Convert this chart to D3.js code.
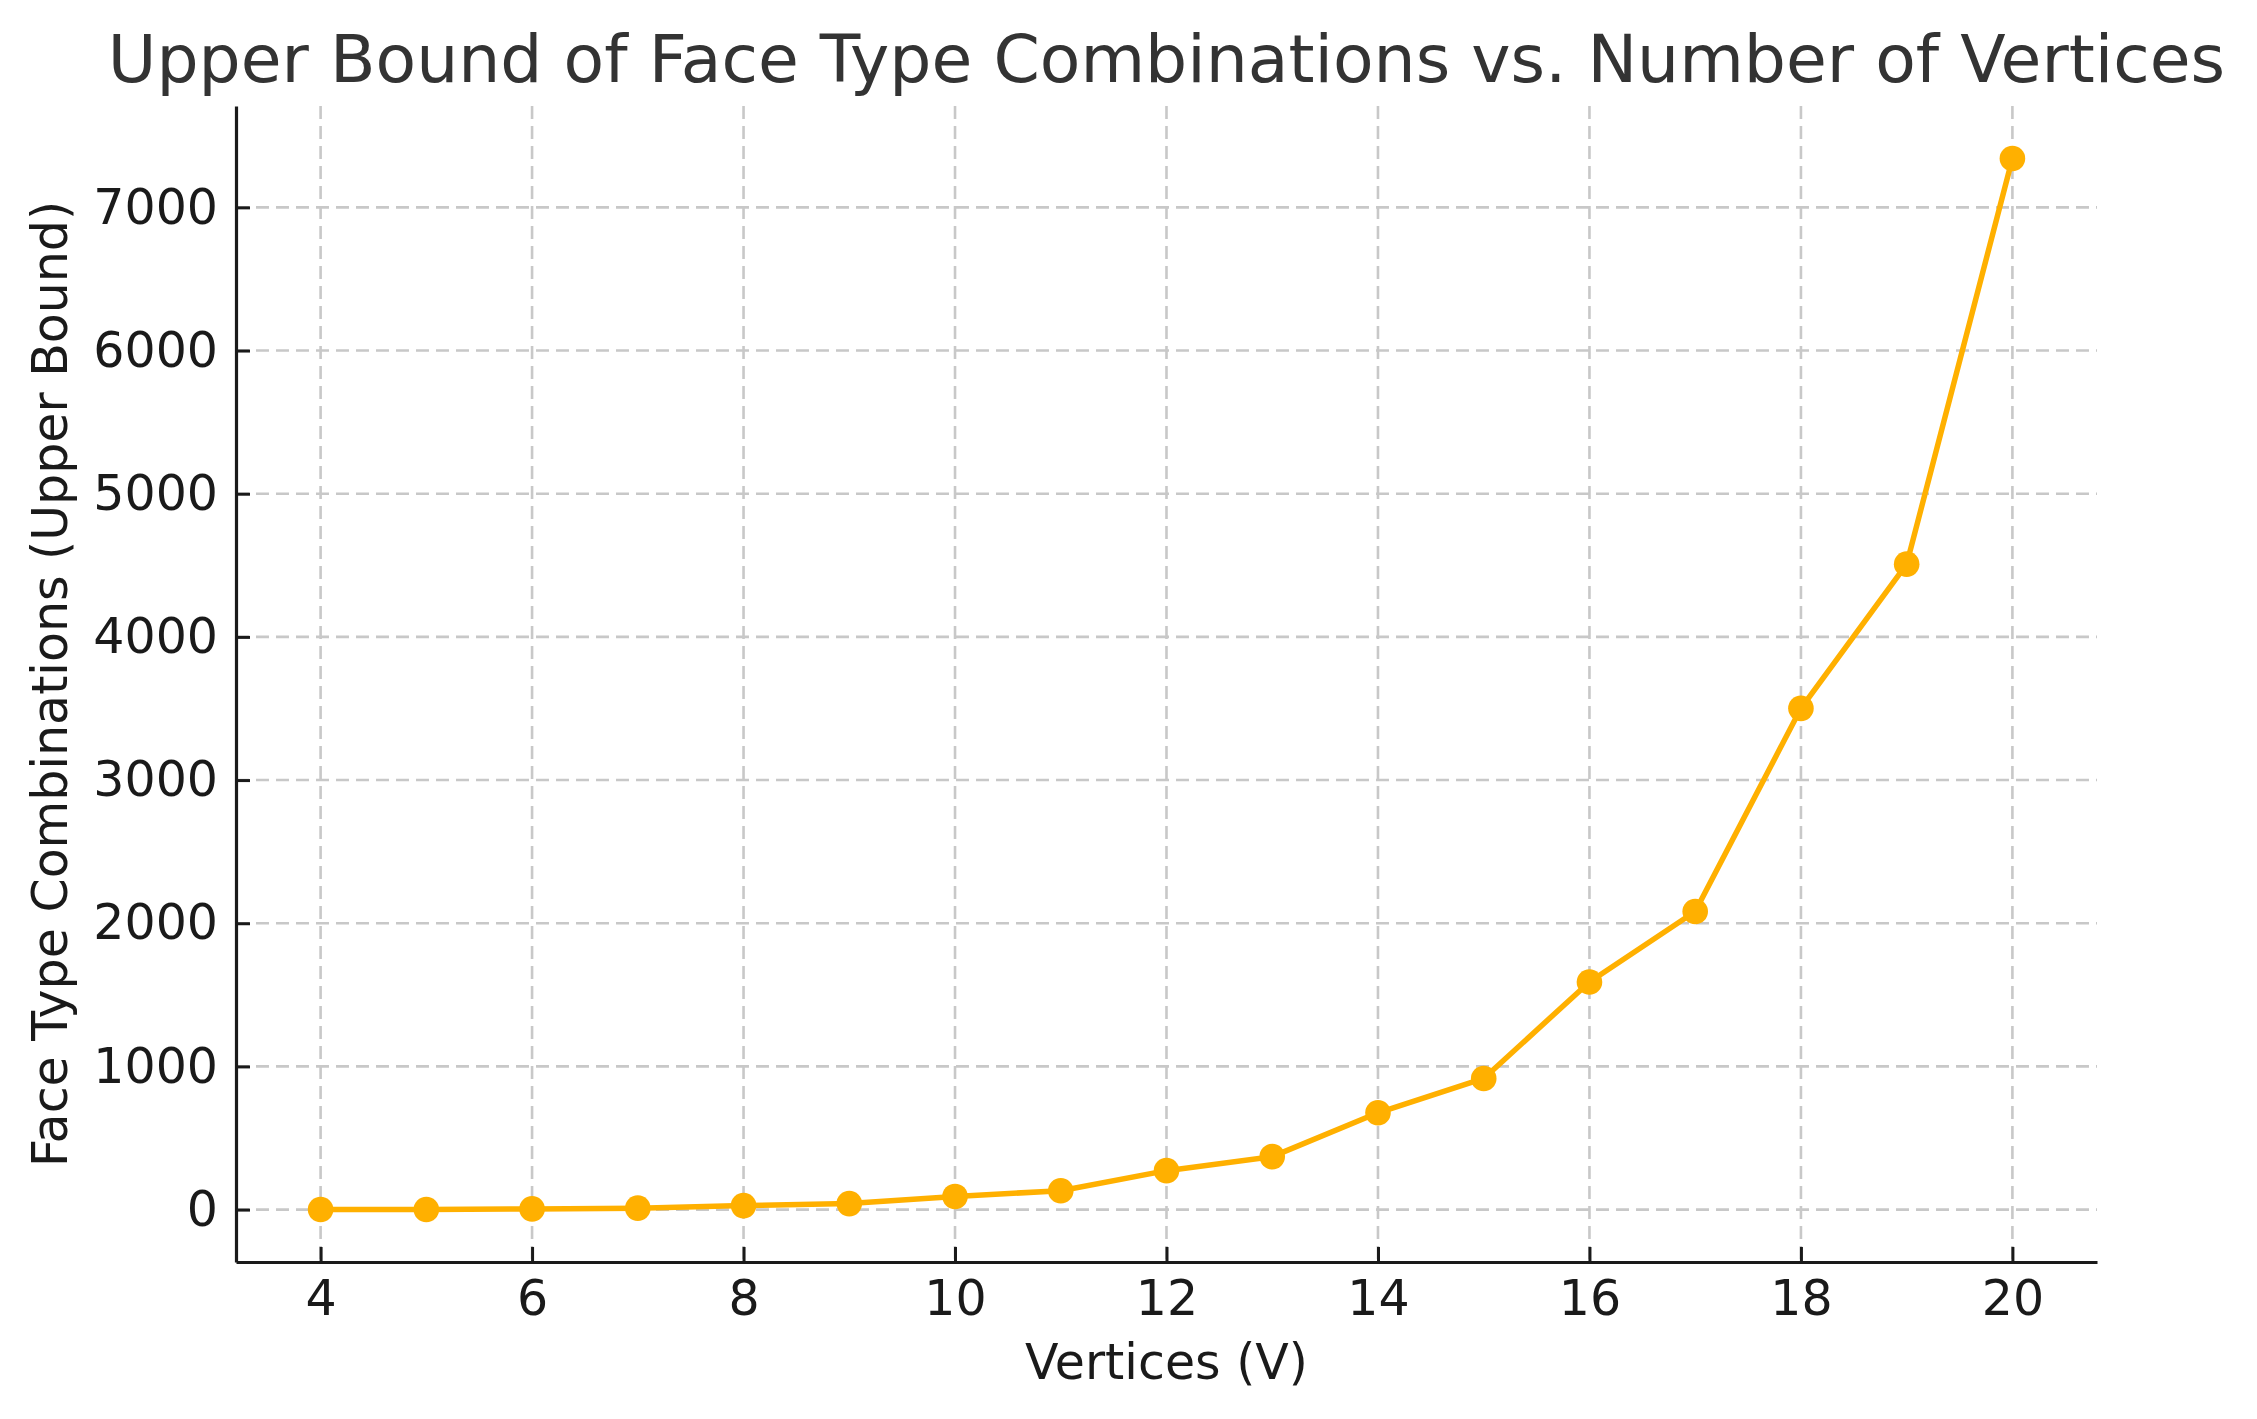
<!DOCTYPE html>
<html>
<head>
<meta charset="utf-8">
<script src="https://cdn.jsdelivr.net/npm/d3@7"></script>
<style>
  body { margin: 0; background: #fff; }
  text { font-family: "DejaVu Sans", sans-serif; }
</style>
</head>
<body>
<script>
// data
var vertices = [4, 5, 6, 7, 8, 9, 10, 11, 12, 13, 14, 15, 16, 17, 18, 19, 20];
var combos = [1, 1, 5, 10, 28, 42, 92, 132, 272, 370, 676, 916, 1590, 2082, 3501, 4508, 7341];
var xTicks = [4, 6, 8, 10, 12, 14, 16, 18, 20];
var yTicks = [0, 1000, 2000, 3000, 4000, 5000, 6000, 7000];

var W = 2257, H = 1419;
var margin = {top: 106, right: 160, bottom: 157, left: 236};
var w = W - margin.left - margin.right,
    h = H - margin.top - margin.bottom;

var svg = d3.select("body").append("svg")
            .attr("width", W)
            .attr("height", H);

var g = svg.append("g")
           .attr("transform", "translate(" + margin.left + "," + margin.top + ")");

// matplotlib style 5% margins
var xr = d3.extent(vertices), yr = d3.extent(combos);
var xp = (xr[1] - xr[0]) * 0.05, yp = (yr[1] - yr[0]) * 0.05;

var x = d3.scaleLinear().domain([xr[0] - xp, xr[1] + xp]).range([0, w]);
var y = d3.scaleLinear().domain([yr[0] - yp, yr[1] + yp]).range([h, 0]);

// grid
g.append("g").selectAll("line")
  .data(xTicks).enter().append("line")
  .attr("x1", function(d) { return x(d); })
  .attr("x2", function(d) { return x(d); })
  .attr("y1", 0).attr("y2", h)
  .attr("stroke", "#c8c8c8").attr("stroke-width", 2.6)
  .attr("stroke-dasharray", "13,7");

g.append("g").selectAll("line")
  .data(yTicks).enter().append("line")
  .attr("y1", function(d) { return y(d); })
  .attr("y2", function(d) { return y(d); })
  .attr("x1", 0).attr("x2", w)
  .attr("stroke", "#c8c8c8").attr("stroke-width", 2.6)
  .attr("stroke-dasharray", "13,7");

// axes
var xAxis = g.append("g")
  .attr("transform", "translate(0," + h + ")")
  .call(d3.axisBottom(x).tickValues(xTicks).tickFormat(d3.format("d"))
          .tickSizeInner(-15).tickSizeOuter(0).tickPadding(18));

var yAxis = g.append("g")
  .call(d3.axisLeft(y).tickValues(yTicks).tickFormat(d3.format("d"))
          .tickSizeInner(-14).tickSizeOuter(0).tickPadding(18));

[xAxis, yAxis].forEach(function(a) {
  a.select(".domain").attr("stroke", "#1a1a1a").attr("stroke-width", 3.2);
  a.selectAll(".tick line").attr("stroke", "#1a1a1a").attr("stroke-width", 3);
  a.selectAll(".tick text").attr("fill", "#1a1a1a")
   .style("font-size", "49px").style("font-family", "DejaVu Sans");
});

// line + markers
var line = d3.line()
  .x(function(d, i) { return x(vertices[i]); })
  .y(function(d) { return y(d); });

g.append("path")
  .datum(combos)
  .attr("d", line)
  .attr("fill", "none")
  .attr("stroke", "#ffb000")
  .attr("stroke-width", 5.5)
  .attr("stroke-linejoin", "round");

g.selectAll(".dot")
  .data(combos).enter().append("circle")
  .attr("class", "dot")
  .attr("cx", function(d, i) { return x(vertices[i]); })
  .attr("cy", function(d) { return y(d); })
  .attr("r", 12.8)
  .attr("fill", "#ffb000");

// labels
svg.append("text")
  .attr("x", margin.left + w / 2).attr("y", 82)
  .attr("text-anchor", "middle")
  .attr("fill", "#333333")
  .style("font-size", "66.4px")
  .text("Upper Bound of Face Type Combinations vs. Number of Vertices");

svg.append("text")
  .attr("x", margin.left + w / 2).attr("y", 1379)
  .attr("text-anchor", "middle")
  .attr("fill", "#1a1a1a")
  .style("font-size", "49px")
  .text("Vertices (V)");

svg.append("text")
  .attr("transform", "translate(67," + (margin.top + h / 2) + ") rotate(-90)")
  .attr("text-anchor", "middle")
  .attr("fill", "#1a1a1a")
  .style("font-size", "49px")
  .text("Face Type Combinations (Upper Bound)");
</script>
</body>
</html>
